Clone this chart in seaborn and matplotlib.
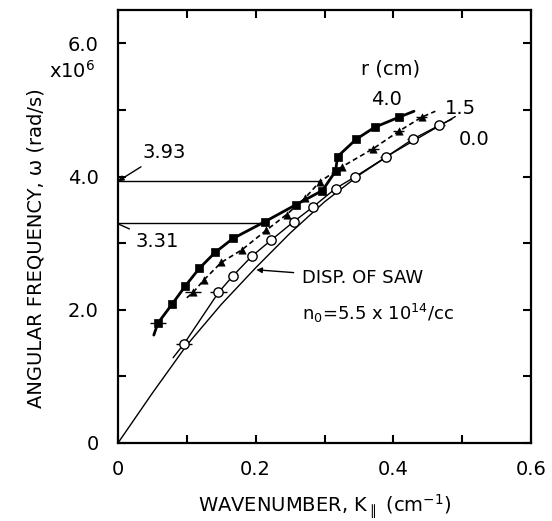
import numpy as np
import pandas as pd
import matplotlib
matplotlib.use("Agg")
import matplotlib.pyplot as plt
from matplotlib.ticker import MultipleLocator, FixedLocator, FixedFormatter
import seaborn as sns

sns.set_style("ticks")
plt.rcParams["font.family"] = ["DejaVu Sans"]
plt.rcParams["text.color"] = "black"
plt.rcParams["axes.labelcolor"] = "black"
plt.rcParams["xtick.color"] = "black"
plt.rcParams["ytick.color"] = "black"

# r = 4.0 cm (filled squares, thick solid line)
k_r40 = [0.058, 0.079, 0.098, 0.118, 0.141, 0.167, 0.213, 0.259, 0.297, 0.316, 0.319, 0.346, 0.373, 0.408]
w_r40 = [1.80, 2.09, 2.36, 2.62, 2.86, 3.07, 3.32, 3.58, 3.79, 4.08, 4.30, 4.56, 4.74, 4.89]
k_r40_line = [0.052] + k_r40 + [0.430]
w_r40_line = [1.62] + w_r40 + [4.98]

# r = 1.5 cm (filled triangles, dashed line)
k_r15 = [0.109, 0.125, 0.150, 0.180, 0.215, 0.245, 0.272, 0.293, 0.326, 0.371, 0.408, 0.441]
w_r15 = [2.26, 2.45, 2.71, 2.90, 3.19, 3.43, 3.68, 3.92, 4.15, 4.42, 4.68, 4.89]
k_r15_line = [0.100] + k_r15 + [0.461]
w_r15_line = [2.18] + w_r15 + [4.98]

# r = 0.0 cm (open circles, thin solid line)
k_r00 = [0.096, 0.146, 0.167, 0.194, 0.223, 0.255, 0.284, 0.316, 0.345, 0.389, 0.428, 0.467]
w_r00 = [1.49, 2.26, 2.51, 2.80, 3.05, 3.32, 3.55, 3.82, 4.00, 4.29, 4.56, 4.77]
k_r00_line = [0.080] + k_r00 + [0.485]
w_r00_line = [1.28] + w_r00 + [4.86]

# dispersion of SAW
k_disp = [0, 0.05, 0.10, 0.15, 0.20, 0.25, 0.30, 0.35, 0.40, 0.45, 0.49]
w_disp = [0, 0.75, 1.47, 2.08, 2.63, 3.15, 3.62, 4.02, 4.36, 4.66, 4.90]

# horizontal error bars
err_k = [0.058, 0.109, 0.096, 0.146, 0.389, 0.428, 0.467, 0.371, 0.408, 0.441]
err_w = [1.80, 2.26, 1.49, 2.26, 4.29, 4.56, 4.77, 4.42, 4.68, 4.89]
err_dk = [0.012, 0.012, 0.012, 0.012, 0.008, 0.008, 0.008, 0.008, 0.008, 0.008]

x_ticks = [0, 0.2, 0.4, 0.6]
x_labels = ["0", "0.2", "0.4", "0.6"]
y_ticks = [0, 2, 4, 6]
y_labels = ["0", "2.0", "4.0", "6.0"]

fig = plt.figure(figsize=(5.52, 5.21), dpi=100)
ax = fig.add_axes([118 / 552, 1 - 443 / 521, 413 / 552, 433 / 521])

sns.lineplot(x=k_disp, y=w_disp, ax=ax, color="black", linewidth=1.0, sort=False)
sns.lineplot(x=k_r00_line, y=w_r00_line, ax=ax, color="black", linewidth=1.0, sort=False)
sns.lineplot(x=k_r15_line, y=w_r15_line, ax=ax, color="black", linewidth=1.2,
             linestyle=(0, (3, 2)), sort=False)
sns.lineplot(x=k_r40_line, y=w_r40_line, ax=ax, color="black", linewidth=2.0, sort=False)

ax.errorbar(err_k, err_w, xerr=err_dk, fmt="none", ecolor="black", elinewidth=1.0, capsize=0)

sns.scatterplot(x=k_r40, y=w_r40, ax=ax, marker="s", s=38, color="black",
                edgecolor="black", zorder=5)
sns.scatterplot(x=k_r15, y=w_r15, ax=ax, marker="^", s=28, color="black",
                edgecolor="black", zorder=5)
sns.scatterplot(x=k_r00, y=w_r00, ax=ax, marker="o", s=45, color="white",
                edgecolor="black", linewidth=1.0, zorder=5)

# marked frequencies
ax.hlines([3.93], 0, 0.294, color="black", linewidth=1.0)
ax.hlines([3.31], 0, 0.213, color="black", linewidth=1.0)
ax.annotate("3.93", xy=(0.0, 3.93), xytext=(0.035, 4.36), fontsize=14,
            ha="left", va="center",
            arrowprops=dict(arrowstyle="-|>", color="black", lw=1.0,
                            shrinkA=2, shrinkB=0, mutation_scale=8))
ax.annotate("3.31", xy=(0.0, 3.29), xytext=(0.025, 3.03), fontsize=14,
            ha="left", va="center",
            arrowprops=dict(arrowstyle="-", color="black", lw=1.0,
                            shrinkA=2, shrinkB=0))

# labels on the curves
ax.text(0.396, 5.61, "r (cm)", fontsize=14, ha="center", va="center")
ax.text(0.390, 5.16, "4.0", fontsize=14, ha="center", va="center")
ax.text(0.498, 5.02, "1.5", fontsize=14, ha="center", va="center")
ax.text(0.517, 4.56, "0.0", fontsize=14, ha="center", va="center")

ax.annotate("DISP. OF SAW", xy=(0.201, 2.60), xytext=(0.268, 2.48), fontsize=13,
            ha="left", va="center",
            arrowprops=dict(arrowstyle="-|>", color="black", lw=1.0,
                            shrinkA=4, shrinkB=0, mutation_scale=8))
ax.text(0.268, 1.95, r"n$_0$=5.5 x 10$^{14}$/cc", fontsize=13, ha="left", va="center")

ax.text(-0.033, 5.58, r"x10$^6$", fontsize=14, ha="right", va="center", clip_on=False)

ax.set_xlim(0, 0.6)
ax.set_ylim(0, 6.5)
ax.xaxis.set_major_locator(FixedLocator(x_ticks))
ax.xaxis.set_major_formatter(FixedFormatter(x_labels))
ax.xaxis.set_minor_locator(MultipleLocator(0.1))
ax.yaxis.set_major_locator(FixedLocator(y_ticks))
ax.yaxis.set_major_formatter(FixedFormatter(y_labels))
ax.yaxis.set_minor_locator(MultipleLocator(1.0))

ax.tick_params(which="both", direction="in", top=True, right=True, width=1.5,
               length=6, labelsize=14, color="black", labelcolor="black")
ax.tick_params(axis="x", which="major", pad=12)
ax.tick_params(axis="y", which="major", pad=14)
for s in ax.spines.values():
    s.set_linewidth(1.6)
    s.set_color("black")

ax.set_xlabel(r"WAVENUMBER, K$_{\parallel}$ (cm$^{-1}$)", fontsize=14)
ax.set_ylabel("ANGULAR FREQUENCY, \u03c9 (rad/s)", fontsize=14)
ax.xaxis.set_label_coords(0.5, -0.115)
ax.yaxis.set_label_coords(-0.175, 0.45)

fig.savefig("out.png", dpi=100)
